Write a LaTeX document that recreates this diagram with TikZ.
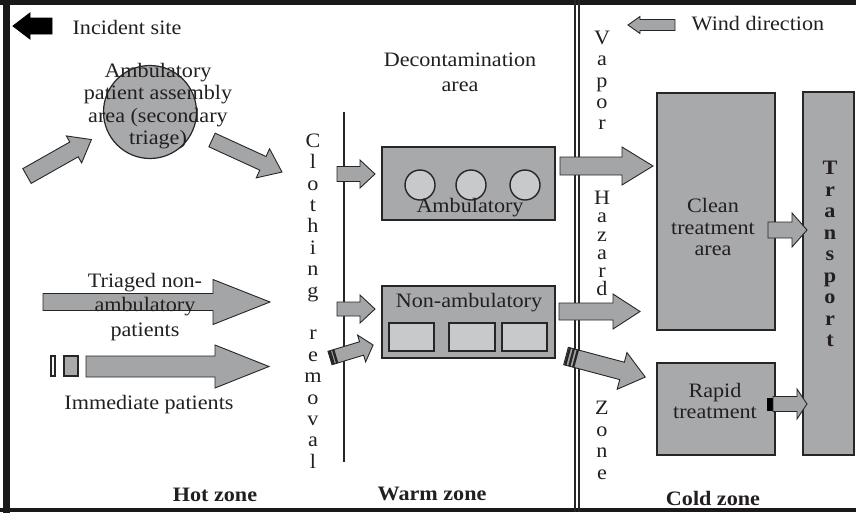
\documentclass[tikz,border=0pt]{standalone}
\usepackage{fontspec}
\setmainfont{Liberation Serif}[FakeStretch=1.08]
\definecolor{ink}{RGB}{35,31,32}
\definecolor{outline}{RGB}{38,38,38}
\definecolor{boxgray}{RGB}{168,169,171}
\definecolor{arrowgray}{RGB}{164,165,167}
\definecolor{lightgray}{RGB}{200,201,203}

% Block arrow: [style] {tail point} {direction in degrees} {length} {head length} {shaft width} {head width}
\newcommand\blockarrow[7][]{%
  \draw[arrowbody,#1,shift={#2},rotate=#3]
    (0,{#6/2}) -- ({#4-#5},{#6/2}) -- ({#4-#5},{#7/2}) -- (#4,0)
    -- ({#4-#5},{-#7/2}) -- ({#4-#5},{-#6/2}) -- (0,{-#6/2}) -- cycle;}

\begin{document}
\begin{tikzpicture}[x=1pt,y=-1pt,
  every node/.style={inner sep=0pt,outer sep=0pt,text=ink},
  lbl/.style={font=\fontsize{20.5}{22.5}\selectfont,align=center},
  zonelbl/.style={font=\fontsize{20.5}{22.5}\selectfont\bfseries},
  area/.style={draw=outline,fill=boxgray,line width=1.6pt,rectangle},
  bed/.style={draw=outline,fill=lightgray,line width=1.4pt,rectangle},
  arrowbody/.style={draw=outline,fill=arrowgray,line width=0.9pt,line join=miter},
  frame/.style={draw=black!90,line cap=rect}]
\useasboundingbox (0,0) rectangle (856,512);

% outer frame (open on the right) and the warm/cold boundary
\draw[frame,line width=5pt] (0,2.5) -- (856,2.5);
\draw[frame,line width=4.5pt] (0,509.8) -- (856,509.8);
\draw[frame,line width=7pt] (6.5,0) -- (6.5,512);
\draw[outline,line width=1.8pt] (575,0) -- (575,512);
\draw[outline,line width=1.8pt] (579,0) -- (579,512);

% clothing removal line
\coordinate (clineTop) at (344,112);
\coordinate (clineBot) at (344,462);
\draw[outline,line width=1.6pt] (clineTop) -- (clineBot);

% incident site and wind direction
\blockarrow[fill=black,draw=black]{(52,26)}{180}{39}{17}{16}{26}
\node[lbl] (incident) at (127,27) {Incident site};
\blockarrow{(675,25)}{180}{47}{12}{11}{17}
\node[lbl] (wind) at (758,24) {Wind direction};

% hot zone
\blockarrow{(27,176)}{29.5}{74}{20}{17}{31}
\node[draw=outline,fill=boxgray,circle,minimum size=93pt,line width=1.2pt] (assembly) at (150,112) {};
\node[lbl] (assemblytxt) at (158,106) {Ambulatory\\patient assembly\\area (secondary\\triage)};
\blockarrow{(212,140)}{-24.6}{77}{21}{15}{32}

\blockarrow{(43,302)}{0}{227}{57}{17}{45}
\node[lbl,font=\fontsize{20.5}{24.5}\selectfont] (triaged) at (145,307) {Triaged non-\\ambulatory\\patients};
\node[draw=outline,fill=white!85!lightgray,line width=1.2pt,minimum width=4pt,minimum height=20pt] (tag1) at (53,366) {};
\node[draw=outline,fill=boxgray,line width=1.2pt,minimum width=14pt,minimum height=20pt] (tag2) at (71,366) {};
\blockarrow{(86,366.5)}{0}{183}{54}{21}{43}
\node[lbl] (immediate) at (149,405) {Immediate patients};
\node[zonelbl] (hot) at (215,495) {Hot zone};

% warm zone
\node[lbl,font=\fontsize{20.5}{25}\selectfont] (decon) at (460,72) {Decontamination\\area};
\node[lbl,font=\fontsize{20.5}{21.4}\selectfont] (clothing) at (313,301)
  {C\\l\\o\\t\\h\\i\\n\\g\\[21.4pt]r\\e\\m\\o\\v\\a\\l};

\node[area,minimum width=173pt,minimum height=73pt] (amb) at (468.5,183.5) {};
\foreach \cx/\nm in {420/c1,471/c2,525/c3}
  \node[bed,circle,minimum size=30pt] (\nm) at (\cx,185) {};
\node[lbl] (ambtxt) at (470,208) {Ambulatory};

\node[area,minimum width=173pt,minimum height=72pt] (nonamb) at (468.5,322) {};
\node[bed,minimum width=45pt,minimum height=28pt] (b1) at (411.5,337) {};
\node[bed,minimum width=46pt,minimum height=28pt] (b2) at (472,337) {};
\node[bed,minimum width=45pt,minimum height=28pt] (b3) at (524.5,337) {};
\node[lbl] (nonambtxt) at (469,303) {Non-ambulatory};

\blockarrow{(337,174)}{0}{38}{15}{15}{28}
\blockarrow{(337,309)}{0}{38}{15}{14}{28}
\begin{scope}[shift={(330,358)},rotate=16.8]
  \draw[arrowbody] (0,7) -- (33,7) -- (33,14) -- (45,0) -- (33,-14) -- (33,-7) -- (0,-7) -- cycle;
  \fill[outline] (0,-7) rectangle (3,7);
  \fill[outline] (4.2,-7) rectangle (6.6,7);
\end{scope}
\node[zonelbl] (warm) at (432,494) {Warm zone};

% vapor hazard zone
\node[lbl,font=\fontsize{20.5}{21.25}\selectfont] (vapor) at (602,80.5) {V\\a\\p\\o\\r};
\node[lbl,font=\fontsize{20.5}{18.2}\selectfont] (hazard) at (602,243.5) {H\\a\\z\\a\\r\\d};
\node[lbl,font=\fontsize{20.5}{21.7}\selectfont] (zone) at (602,440.5) {Z\\o\\n\\e};

% crossings into the cold zone
\blockarrow{(560,166)}{0}{93}{31}{18}{38}
\blockarrow{(559,311.5)}{0}{81}{27}{17}{35}
\begin{scope}[shift={(566,356)},rotate=-14.9]
  \draw[arrowbody] (0,9) -- (58,9) -- (58,19) -- (82,0) -- (58,-19) -- (58,-9) -- (0,-9) -- cycle;
  \fill[outline] (0.5,-9) rectangle (2.8,9);
  \fill[outline] (4.6,-9) rectangle (6.9,9);
  \fill[outline] (8.7,-9) rectangle (11,9);
\end{scope}

% cold zone
\node[area,minimum width=118pt,minimum height=237pt] (clean) at (716,211.5) {};
\node[lbl,font=\fontsize{20.5}{21.5}\selectfont] (cleantxt) at (713,227) {Clean\\treatment\\area};
\node[area,minimum width=118pt,minimum height=92pt] (rapid) at (716,409) {};
\node[lbl,font=\fontsize{20.5}{20.5}\selectfont] (rapidtxt) at (715,401) {Rapid\\treatment};
\node[fill=black,minimum width=6pt,minimum height=13pt] (rapidport) at (770,404.5) {};
\node[area,minimum width=51pt,minimum height=363pt] (transport) at (828.5,273.5) {};
\node[lbl,font=\fontsize{20.5}{21.5}\selectfont\bfseries] (transporttxt) at (830,254)
  {T\\r\\a\\n\\s\\p\\o\\r\\t};
\blockarrow{(768,230)}{0}{39}{15}{16}{34}
\blockarrow{(773,404)}{0}{34}{10}{15}{30}
\node[zonelbl] (cold) at (713,498) {Cold zone};
\end{tikzpicture}
\end{document}
